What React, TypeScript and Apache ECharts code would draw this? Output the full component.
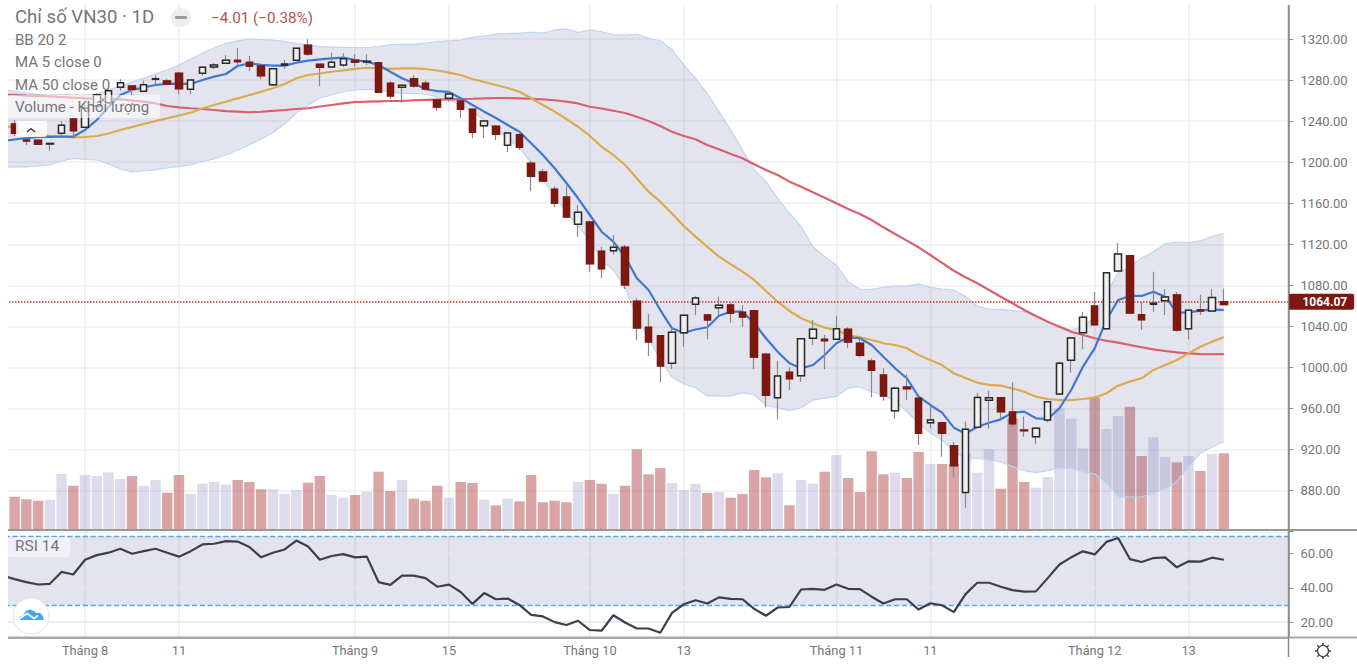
import React, { useEffect, useRef } from "react";
import * as echarts from "echarts";

// [open, close, low, high] for each trading day
const ohlc = [
[1237.2,1228.1,1225.5,1241.1],[1221.6,1220.6,1216.7,1221.6],[1221.3,1217.4,1217,1221.6],[1217.7,1218.2,1210.9,1218.4],
[1228.1,1235.9,1225.5,1240.4],[1242,1230.6,1224.5,1242],[1234,1252.5,1234,1256.7],[1254.7,1265.7,1254,1267],
[1257.9,1269.6,1257,1271],[1272.9,1277.4,1269.6,1280.7],[1274.2,1271,1265.4,1274.2],[1269,1275.5,1268.6,1279.4],
[1280.7,1281.3,1275.5,1284.6],[1279.1,1276.2,1275.9,1281.3],[1286.6,1271.6,1266.1,1288.1],[1271,1280,1266.1,1280.7],
[1286.6,1292.4,1284.2,1293.7],[1292.7,1294.7,1290.5,1296.3],[1296.3,1299.2,1295.6,1304.1],[1299.2,1297.9,1294.4,1311.2],
[1297.3,1293.4,1288.5,1303.4],[1293.7,1284.2,1280.7,1293.7],[1275.5,1291,1274.2,1291],[1294.4,1295.6,1291,1299.5],
[1299.2,1310.9,1298.9,1310.9],[1313.9,1305.4,1303.7,1319.7],[1295.3,1292.4,1274.2,1295.6],[1292.7,1297.3,1292,1306.7],
[1294.7,1300.8,1293,1306.1],[1299.2,1297.3,1293,1305.1],[1297.6,1298.3,1294.7,1305.1],[1296.9,1268,1267.1,1297.6],
[1276.8,1264.5,1261.8,1278.8],[1272.9,1274.9,1257.9,1274.9],[1281.3,1274.2,1272.5,1284.9],[1276.8,1271.3,1270.3,1279.4],
[1260.6,1253.7,1250.1,1262.2],[1262.2,1266.4,1258.9,1268.6],[1259.6,1251.5,1243.3,1259.6],[1251.5,1229.1,1223.2,1251.5],
[1235.5,1240.1,1223.2,1241.1],[1234.9,1227.1,1221.6,1236.2],[1216.4,1228.4,1209.9,1229.1],[1226.7,1214.5,1211.8,1230.4],
[1198.9,1186.2,1171.9,1201.4],[1190.4,1181.6,1180.4,1193.3],[1173.5,1159.9,1156,1176.8],[1166,1146.6,1145.9,1176.8],
[1139.4,1151.1,1127.4,1158.2],[1141.7,1101.1,1093.3,1141.7],[1113.1,1096.2,1087.4,1117.6],[1113.7,1117,1110.2,1129],
[1117,1080.3,1076.4,1119.3],[1064.4,1038.4,1026.7,1067.3],[1039.1,1024.8,1011.1,1051.7],[1030.9,1001.4,985.5,1030.9],
[1004,1034.2,998.4,1038.1],[1033.8,1050.8,1020.2,1050.8],[1061.5,1067.6,1051.1,1069.9],[1051.1,1046.2,1027.4,1051.1],
[1058.2,1060.5,1051.1,1068.9],[1060.8,1052.7,1043.6,1063.1],[1053.7,1049.1,1039.7,1060.8],[1055.3,1010.1,998.2,1055.3],
[1012.8,972.8,961.1,1013.7],[970.5,991.6,949.4,1006.2],[995.2,989,978,1000.1],[991.9,1028,985.8,1028],
[1028.4,1037.1,1021.8,1046.2],[1027.4,1026,998.2,1031.6],[1027.4,1037.7,1027.4,1050.1],[1037.1,1024.8,1018.9,1039.1],
[1023.5,1011.8,1009.8,1028.4],[1006.2,997.2,970.9,1008.9],[992.6,972.1,967.6,999.1],[957.8,979.6,950,981.2],
[980.9,979.3,968.2,993.3],[969.9,935.8,924.4,969.9],[946.1,948.8,940.7,963.1],[946.1,935.8,913,946.1],
[923.7,904.2,892.9,927],[878.1,939.7,863.2,947.3],[941.6,970.7,941.6,975.4],[968,970.5,940.3,977.3],
[970.5,956.8,949.4,971.5],[956.6,945.2,941.6,985.5],[939,938.3,932.5,952],[932.5,940.7,925.1,941.6],
[948.7,966.6,946.8,966.6],[974.1,1004,974.1,1005.6],[1006.9,1028.7,994.8,1028.7],[1033.8,1048.8,1017.6,1054.3],
[1059.8,1041.6,1041.6,1073.5],[1037.7,1092.3,1037.7,1093],[1093.9,1110.5,1093.9,1120.9],[1108.8,1053,1053,1108.8],
[1051.4,1046.5,1036.4,1064],[1061.5,1062.5,1054.3,1093.3],[1065,1068.6,1051.1,1076.1],[1070.6,1036.4,1034.8,1073.5],
[1037.7,1055.6,1027.4,1055.6],[1056.2,1055,1051.1,1070.6],[1055,1068,1055,1076.4],[1064.07,1061.2,1061.2,1077],
];

const volumes = [
33.3,30.7,29.3,30.3,56,44.3,55,54,57.7,51,
54,44.3,50,37.3,55,36,46.3,48,45.3,50,
48,40.7,40.7,36,40,47.3,54,35,32.3,35,
38.3,58.3,39,50,31.3,29.3,44.3,32.3,48,47,
30.3,24.7,31.3,28.7,55,27.7,29.3,27.7,48,50,
46.3,36,44.3,80.7,55.7,62,47,40,46.3,37,
38,32.3,36,60,52.7,56.7,24.7,50,46.3,58.3,
75,52,38,78.7,55.7,57.3,52,78,66,66,
66,76.7,57.3,80.7,41.3,111.7,48,42.3,53,121.7,
111.3,81.7,132.3,101,114,123.3,74,92.7,73,67.7,
74,59,76,76.7,
];

// Lines start one day before the first visible candle
const ma5 = [
1220.6,1222.1,1223.5,1224.5,1224.7,1224.8,1224.8,1231.3,1241.1,1253.7,1265.4,1270.3,1272.9,1275.2,1276.2,1276.6,1276.2,1280,1283.3,1285.9,1293.7,
1296.3,1294.7,1294,1294,1296.9,1298.9,1300.2,1301.2,1301.8,1299.5,1297.9,1294.7,1288.1,1281.7,1276.8,1271,1269.3,1268.4,1262.2,1255.7,
1249.2,1243,1236.2,1229.7,1218.4,1207,1194,1179.7,1164.8,1148.5,1132.2,1122.5,1107.9,1086.8,1075.4,1055.9,1038.1,1033.8,1036.9,1039.1,
1050.4,1054.3,1054.3,1043,1028.4,1015.3,1004,999.1,1002.3,1012.1,1023.5,1029.3,1028.4,1021.8,1010.4,999.1,989.4,971.5,963.4,955.9,
941.3,935.6,941.9,946.1,949.4,955.9,956.9,950.4,949.7,960.2,978,1000.7,1018.6,1046.2,1065.7,1069.6,1069.6,1073.8,1068.9,1053.3,
1053.7,1055.3,1056.6,1055.9,
];

const bbBasis = [
1235.2,1233.8,1230.4,1228.1,1225.5,1225,1224.2,1224.5,1225.5,1227.9,1231.3,1234.3,1237.2,1240.1,1242.7,1245.5,1248.2,1252.5,1255.7,1258.9,1262.2,
1265.4,1268.6,1272,1276.2,1281.7,1284.9,1286.4,1288.1,1289.5,1290.8,1292,1291.7,1290.8,1291.3,1291.3,1290.8,1289.3,1287.2,1284.9,1281,
1278.1,1275.2,1272.3,1268.6,1262.2,1255.7,1249.2,1242,1234.5,1225.5,1215,1207,1197.2,1184.3,1171.2,1161.5,1150,1137.8,1127.4,1117.6,
1107.9,1100.5,1093.3,1085.2,1074.5,1064,1055,1047.9,1043,1038.7,1036.4,1031.6,1029.3,1026.7,1023.5,1021.8,1018.6,1012.1,1007.2,1002.3,
994.3,989.7,985.1,982.9,982.2,979.6,976.3,971.5,969.2,968.2,968.2,969.2,970.5,974.8,982.2,986.1,989.4,997.5,1002.3,1007.2,
1013.7,1020.2,1025.1,1029.3,
];

const ma50 = [
1265.9,1265.7,1264.9,1264.5,1264,1263.5,1262.8,1262.2,1261.8,1261.5,1261.2,1260.1,1258.9,1257.2,1254.7,1253.3,1252.5,1251.8,1250.8,1249.8,1249.2,
1248.6,1249.1,1250,1250.8,1251.8,1252.5,1254.2,1255.7,1257.2,1258.6,1258.9,1259.3,1259.6,1259.6,1260.3,1260.6,1261,1261.2,1261.5,1261.8,
1262.2,1262.5,1262.5,1262.2,1261.8,1261.2,1260.3,1258.9,1257.2,1254,1252.3,1250.1,1247.9,1244.3,1240.1,1235.2,1229.7,1225.5,1222.3,1216.7,
1212.5,1207.9,1203.8,1197.9,1192.4,1187.5,1181,1176.1,1170.6,1165.4,1159.9,1154.3,1149.5,1143.6,1136.5,1130,1123.5,1117,1109.5,1101.9,
1094.2,1087.8,1082,1075.4,1068.9,1062.5,1055.9,1050,1044.5,1039.7,1034.8,1031.6,1028.4,1026,1024.1,1021.8,1019.6,1017.6,1016,1014.7,
1013.7,1013,1012.8,1013,
];

const bbUpper = [
1271,1269.3,1267.4,1265.9,1265.4,1265.9,1265.7,1265.4,1266.4,1270.3,1274.2,1278.1,1282,1285.9,1289.8,1294.7,1300.5,1306.1,1311.2,1315.8,1318.1,
1320,1319.5,1319,1317.6,1315.8,1314.2,1312.5,1312.2,1311.9,1311.7,1311.5,1312.7,1314.2,1314.8,1314.8,1316.1,1317.4,1318.3,1319,1321.9,
1322.9,1324.9,1325.2,1325.8,1326.5,1325.8,1328.8,1329.7,1326.5,1328.8,1327.1,1324.2,1323.9,1324.6,1320.7,1318.3,1309.6,1294.7,1281.7,1267.1,
1249.2,1231.3,1211.8,1192.4,1181,1164.8,1150.2,1137.1,1117.6,1107.9,1099.8,1083.5,1076.4,1076.1,1078,1079.3,1079.3,1081.3,1078,1076.4,
1075.4,1069.1,1059.8,1056.9,1056.6,1055.3,1054.3,1049.4,1044.5,1040.3,1036.4,1039.7,1049.4,1072.5,1092,1098.1,1106.6,1112.7,1120.3,1122.2,
1121.5,1123.2,1127.4,1130.7,
];

const bbLower = [
1194.8,1195.3,1195.3,1196.3,1197.2,1201.1,1203.6,1202.6,1202.1,1198.2,1193.3,1190.4,1191.4,1192.4,1194.3,1195.8,1197.2,1200.6,1203.1,1207,1211.8,
1216.7,1222.6,1228.9,1237.2,1247.9,1255.7,1262.5,1265.4,1268.6,1270.3,1271,1270.3,1268.4,1267.1,1266.9,1266.4,1263.5,1260.6,1255.7,1249.4,
1241.1,1232.3,1223.5,1213.8,1199.2,1182.6,1167,1151.4,1137.8,1124.1,1104.7,1094.9,1078.3,1048.1,1028.7,1007.2,990.6,983.8,979.9,972.4,
972.1,972.1,975.4,973.1,963.4,960.5,957.8,960.7,968.2,970.1,971.5,979.9,981.2,976.3,973.1,966.6,956.9,945.8,936.1,929.3,
917.9,911.2,911.7,909.8,908.1,903.3,899.3,897.4,899.3,901.9,901.9,898.4,896.1,887.4,874,873.7,873.7,877.6,881.5,888.6,
903.3,916.6,922.5,927.6,
];

const rsi = [
47,45,43.3,41.9,42.3,49.2,47.7,56.3,59,60.4,62.7,59.8,61.3,62.7,60.4,58.1,61.3,65.2,65.6,67.1,66.9,
63.7,57.7,60.4,62.3,67.5,64,56.3,58.5,59.6,57.7,58.1,43.3,41.7,47.1,47.1,45.6,40.6,41.8,37.5,30.6,
36.9,33.3,33.7,30,24.2,23.3,20,18.3,20.8,15.4,15,24,19.8,16.3,16.3,13.8,25.4,30.4,32.7,30.8,
34.4,33.5,33.3,27.7,23.7,28.5,28.8,39,39.4,38.8,41.9,39.4,39.2,34.8,30.8,33.3,33.3,27.3,31,29.8,
25.8,36.3,42.9,42.9,40.6,38.6,37.7,37.9,45.6,53.5,57.7,61.2,59.4,66.7,69,56.7,55,57.3,57.7,51.9,
55.4,55.2,57.5,56.3,
];

// Slot number on the time axis -> tick label
const timeTicks: [number, string][] = [
  [7, "Tháng 8"], [15, "11"], [30, "Tháng 9"], [38, "15"], [50, "Tháng 10"],
  [58, "13"], [71, "Tháng 11"], [79, "11"], [93, "Tháng 12"], [101, "13"],
];
const slotCount = 110;
const priceTicks = [1320, 1280, 1240, 1200, 1160, 1120, 1080, 1040, 1000, 960, 920, 880];
const rsiTicks = [20, 40, 60];
const lastPrice = 1064.07;
const legendRows: [string, number][] = [
  ["BB 20 2", 40], ["MA 5 close 0", 62], ["MA 50 close 0", 84.5], ["Volume - Khối lượng", 107],
];

const FONT = "Roboto, Arial, sans-serif";
const MAROON = "#7d1910";
const GRAY_TEXT = "#767676";
const FRAME = "#8c8c8c";
// The chart canvas sits this far up and left of the page corner, so the first slot can be cut by the edge
const OFFSET = 4;

export default function App() {
  const ref = useRef<HTMLDivElement>(null);
  useEffect(() => {
    if (!ref.current) return;
    const chart = echarts.init(ref.current, undefined, { renderer: "svg" });

    const labels = Array.from({ length: slotCount }, () => "");
    timeTicks.forEach(([slot, text]) => { labels[slot] = text; });
    const isTick = (_: number, v: string) => v !== "";

    const lead: any[] = [["-", "-", "-", "-"]];
    const wickData = lead.concat(ohlc);
    const bodyData = lead.concat(ohlc.map(([o, c]) => [o, c, Math.min(o, c), Math.max(o, c)]));
    const volData = ([null] as any[]).concat(volumes.map((v, i) => ({
      value: v,
      itemStyle: { color: ohlc[i][1] < ohlc[i][0] ? "rgba(171,55,55,0.45)" : "rgba(115,115,179,0.25)" },
    })));
    const bandDiff = bbUpper.map((u, i) => +(u - bbLower[i]).toFixed(2));

    const hiddenX = (gridIndex: number, split: boolean) => ({
      type: "category", gridIndex, data: labels, boundaryGap: true,
      axisLine: { show: false }, axisTick: { show: false }, axisLabel: { show: false },
      splitLine: { show: split, alignWithLabel: true, interval: isTick, lineStyle: { color: "#ececec", width: 1.5 } },
    });
    const lineSeries = (name: string, data: number[], color: string, width = 2.2) => ({
      name, type: "line", data, xAxisIndex: 0, yAxisIndex: 0, symbol: "none",
      lineStyle: { color, width }, z: 4,
    });
    // An empty helper series that only carries one dashed level line of the RSI panel
    const rsiLevel = (name: string, level: number) => ({
      name, type: "line", data: [], xAxisIndex: 2, yAxisIndex: 2, symbol: "none", z: 6,
      lineStyle: { color: "#4fa9f0" }, itemStyle: { color: "#4fa9f0" },
      markLine: {
        silent: true, symbol: "none", animation: false, label: { show: false },
        lineStyle: { color: "#4fa9f0", type: "dashed", width: 1.3 },
        data: [{ yAxis: level }],
      },
    });

    const text = (t: string, x: number, y: number, fontSize: number, fill = GRAY_TEXT) => ({
      type: "text", z: 103, silent: true,
      style: { text: t, x, y, fill, font: `${fontSize}px ${FONT}`, textVerticalAlign: "middle", verticalAlign: "middle" },
    });
    const rect = (x: number, y: number, width: number, height: number, fill: string, r = 0) => ({
      type: "rect", z: 100, silent: true, shape: { x, y, width, height, r }, style: { fill },
    });
    const seg = (x1: number, y1: number, x2: number, y2: number, stroke: string, lineWidth = 1.5) => ({
      type: "line", z: 101, silent: true, shape: { x1, y1, x2, y2 }, style: { stroke, lineWidth },
    });

    chart.setOption({
      animation: false,
      backgroundColor: "#ffffff",
      grid: [
        { left: OFFSET - 3.01, top: OFFSET - 2.05, width: 1291.4, height: 533.65 },
        { left: OFFSET - 3.01, top: OFFSET + 390, width: 1291.4, height: 140 },
        { left: OFFSET - 3.01, top: OFFSET + 531, width: 1291.4, height: 106.5 },
      ],
      xAxis: [
        hiddenX(0, true),
        hiddenX(1, false),
        {
          type: "category", gridIndex: 2, data: labels, boundaryGap: true,
          axisLine: { lineStyle: { color: "#a8a8a8", width: 2 } },
          axisTick: { alignWithLabel: true, interval: isTick, length: 5, lineStyle: { color: FRAME } },
          axisLabel: { interval: isTick, color: GRAY_TEXT, fontFamily: FONT, fontSize: 12.8, margin: 6, hideOverlap: false },
          splitLine: { show: true, alignWithLabel: true, interval: isTick, lineStyle: { color: "#ececec", width: 1.5 } },
        },
      ],
      yAxis: [
        {
          type: "value", gridIndex: 0, position: "right", min: 840, max: 1360, interval: 40, scale: true,
          axisLine: { show: true, onZero: false, lineStyle: { color: FRAME, width: 1.5 } },
          axisTick: { show: true, length: 5, lineStyle: { color: FRAME } },
          axisLabel: {
            color: GRAY_TEXT, fontFamily: FONT, fontSize: 13, margin: 12,
            formatter: (v: number) => (priceTicks.includes(v) ? v.toFixed(2) : ""),
          },
          splitLine: { show: true, lineStyle: { color: "#f0f0f0", width: 1.5 } },
        },
        { type: "value", gridIndex: 1, min: 0, max: 140, show: false },
        {
          type: "value", gridIndex: 2, position: "right", min: 11.05, max: 73.03,
          axisLine: { show: true, onZero: false, lineStyle: { color: FRAME, width: 1.5 } },
          axisTick: { show: true, length: 5, customValues: rsiTicks, lineStyle: { color: FRAME } },
          axisLabel: {
            color: GRAY_TEXT, fontFamily: FONT, fontSize: 13, margin: 12, customValues: rsiTicks,
            formatter: (v: number) => Number(v).toFixed(2),
          },
          splitLine: { show: false },
        },
      ],
      series: [
        {
          name: "Volume", type: "bar", data: volData, xAxisIndex: 1, yAxisIndex: 1,
          barWidth: 10.4, z: 1,
        },
        {
          name: "BB lower", type: "line", data: bbLower, stack: "bb", xAxisIndex: 0, yAxisIndex: 0, symbol: "none",
          lineStyle: { color: "#bad7f3", width: 1.2 }, z: 3,
        },
        {
          name: "BB band", type: "line", data: bandDiff, stack: "bb", xAxisIndex: 0, yAxisIndex: 0, symbol: "none",
          lineStyle: { color: "#bad7f3", width: 1.2 }, areaStyle: { color: "rgba(105,105,166,0.18)", opacity: 1 }, z: 3,
        },
        lineSeries("MA 50", ma50, "#dc5f6e"),
        lineSeries("BB basis", bbBasis, "#dcab4e"),
        lineSeries("MA 5", ma5, "#3f78d2"),
        {
          name: "Wicks", type: "candlestick", data: wickData, xAxisIndex: 0, yAxisIndex: 0, barWidth: 7, z: 5,
          itemStyle: { color: "#f0f0f0", color0: MAROON, borderColor: "#8a8a8a", borderColor0: "#8a8a8a", borderWidth: 1.2 },
          markLine: {
            silent: true, symbol: "none", animation: false,
            lineStyle: { color: "#c23a2a", type: "dotted", width: 1.5 },
            label: {
              show: true, position: "end", distance: 0, formatter: () => lastPrice.toFixed(2),
              color: "#fff", fontWeight: "bold", fontFamily: FONT, fontSize: 12,
              backgroundColor: MAROON, padding: [2, 7, 2, 14], borderRadius: 2,
            },
            data: [{ yAxis: lastPrice }],
          },
        },
        {
          name: "VN30", type: "candlestick", data: bodyData, xAxisIndex: 0, yAxisIndex: 0, barWidth: 7, z: 6,
          itemStyle: { color: "#f0f0f0", color0: MAROON, borderColor: "#2b2b2b", borderColor0: MAROON, borderWidth: 1.5 },
        },
        {
          name: "RSI", type: "line", data: rsi, xAxisIndex: 2, yAxisIndex: 2, symbol: "none",
          lineStyle: { color: "#3e3e4e", width: 2.2 }, z: 5,
          markArea: {
            silent: true,
            itemStyle: { color: "rgba(105,105,166,0.18)" },
            data: [[{ yAxis: 70 }, { yAxis: 30 }]],
          },
          markLine: {
            silent: true, symbol: "none", animation: false, label: { show: false },
            lineStyle: { color: "#e6e6ea", type: "solid", width: 1.5 },
            data: rsiTicks.map((v) => ({ yAxis: v })),
          },
        },
        rsiLevel("RSI upper", 70),
        rsiLevel("RSI lower", 30),
      ],
      graphic: [{
        type: "group", x: OFFSET, y: OFFSET,
        children: [
          rect(-OFFSET, -OFFSET, 8 + OFFSET, 680, "#ffffff"),
          rect(-OFFSET, -OFFSET, 1365, 5 + OFFSET, "#ffffff"),
          rect(8, 95, 152, 23, "rgba(255,255,255,0.55)", 2),
          rect(16, 121, 31, 16, "rgba(255,255,255,0.85)", 3),
          rect(8, 537, 62, 20, "rgba(255,255,255,0.45)", 2),
          seg(8, 530, 1357, 530, "#979797", 2),
          seg(8, 637.5, 1357, 637.5, "#a8a8a8", 2),
          seg(1288.5, 5, 1288.5, 657, FRAME, 1.5),
          text("Chỉ số VN30 · 1D", 15, 17, 18.6),
          text("−4.01 (−0.38%)", 211, 18, 15.2, "#b0564c"),
          rect(171, 8, 20, 19, "#eeeeee", 9.5),
          rect(175, 16, 12, 3, "#9a9a9a", 1),
          ...legendRows.map(([t, y]) => text(t, 15, y, 15)),
          text("RSI 14", 15, 545.5, 15.5),
          {
            type: "polyline", z: 103, silent: true,
            shape: { points: [[27, 132], [31, 128.5], [35, 132]] },
            style: { stroke: "#333333", lineWidth: 1.2, fill: "none" },
          },
          { type: "circle", z: 102, silent: true, shape: { cx: 31, cy: 616, r: 18 }, style: { fill: "#ffffff", stroke: "#e4e4e4", lineWidth: 1 } },
          {
            type: "polygon", z: 103, silent: true,
            shape: { points: [[20, 620], [19.5, 617], [23, 615], [26, 611], [30, 609.5], [34, 611], [36, 613], [40, 613], [43, 616], [43.5, 620]] },
            style: { fill: "#3fa9f2" },
          },
          {
            type: "polyline", z: 104, silent: true,
            shape: { points: [[19, 619], [27, 613.5], [34, 618.5], [38, 615.5]] },
            style: { stroke: "#ffffff", lineWidth: 1.6, fill: "none" },
          },
          { type: "circle", z: 103, silent: true, shape: { cx: 1323, cy: 651, r: 5.5 }, style: { fill: "none", stroke: "#444444", lineWidth: 1.3 } },
          seg(1323, 643, 1323, 645, "#444444", 1.5),
          seg(1323, 657, 1323, 659, "#444444", 1.5),
          seg(1315, 651, 1317, 651, "#444444", 1.5),
          seg(1329, 651, 1331, 651, "#444444", 1.5),
          seg(1317.3, 645.3, 1318.7, 646.7, "#444444", 1.3),
          seg(1328.7, 645.3, 1327.3, 646.7, "#444444", 1.3),
          seg(1317.3, 656.7, 1318.7, 655.3, "#444444", 1.3),
          seg(1328.7, 656.7, 1327.3, 655.3, "#444444", 1.3),
        ],
      }],
    });
    return () => chart.dispose();
  }, []);
  return <div ref={ref} style={{ position: "fixed", left: -OFFSET, top: -OFFSET, width: 1357 + OFFSET, height: 670 + OFFSET }} />;
}
